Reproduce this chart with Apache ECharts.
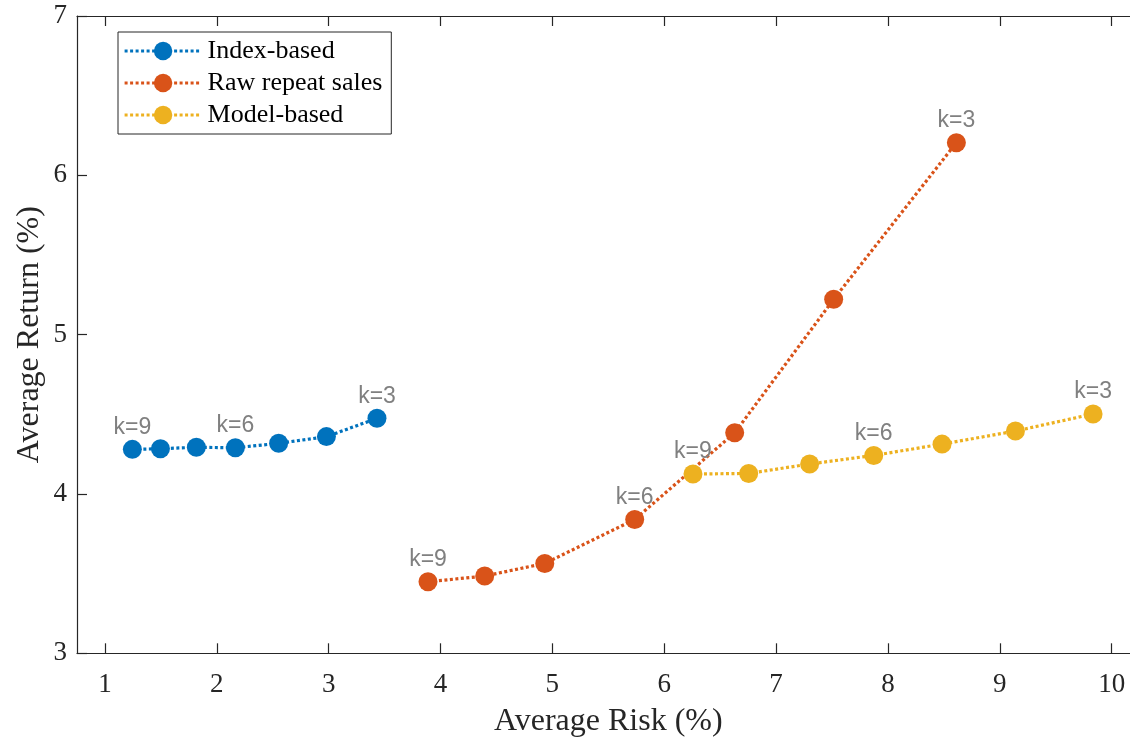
<!DOCTYPE html>
<html>
<head>
<meta charset="utf-8">
<title>Average Risk vs Average Return</title>
<script src="https://cdn.jsdelivr.net/npm/echarts@6/dist/echarts.min.js"></script>
<style>
  html, body { margin: 0; padding: 0; background: #fff; overflow: hidden; }
  #chart { width: 1130px; height: 740px; }
</style>
</head>
<body>
<div id="chart"></div>
<script>
// Holding period k for each point, from k=9 (left) to k=3 (right)
const kValues = [9, 8, 7, 6, 5, 4, 3];
const labeledK = [9, 6, 3];

// Average risk (%) and average return (%) per strategy
const indexRisk   = [1.245, 1.496, 1.817, 2.166, 2.553, 2.980, 3.432];
const indexReturn = [4.280, 4.284, 4.293, 4.290, 4.318, 4.360, 4.475];

const rawRisk     = [3.888, 4.395, 4.932, 5.736, 6.630, 7.515, 8.612];
const rawReturn   = [3.449, 3.485, 3.564, 3.840, 4.384, 5.222, 6.205];

const modelRisk   = [6.257, 6.755, 7.300, 7.873, 8.484, 9.140, 9.834];
const modelReturn = [4.125, 4.129, 4.188, 4.242, 4.313, 4.395, 4.502];

const xTicks = [1, 2, 3, 4, 5, 6, 7, 8, 9, 10];
const yTicks = [3, 4, 5, 6, 7];

const seriesNames  = ['Index-based', 'Raw repeat sales', 'Model-based'];
const seriesColors = ['#0072BD', '#D95319', '#EDB120'];

const serif = 'Liberation Serif, Times New Roman, serif';
const axisColor = '#262626';
const dotted = [3, 2.5];

function buildPoints(xs, ys) {
  return xs.map((x, i) => {
    const k = kValues[i];
    const show = labeledK.indexOf(k) >= 0;
    return {
      value: [x, ys[i]],
      label: { show: show, formatter: 'k=' + k }
    };
  });
}

function makeSeries(name, color, xs, ys) {
  return {
    name: name,
    type: 'line',
    data: buildPoints(xs, ys),
    symbol: 'circle',
    symbolSize: 19,
    showSymbol: true,
    itemStyle: { color: color },
    lineStyle: { color: color, width: 3.2, type: dotted },
    label: {
      position: 'top',
      distance: 1,
      color: '#808080',
      fontFamily: 'Liberation Sans, Arial, sans-serif',
      fontSize: 23
    },
    emphasis: { disabled: true },
    animation: false
  };
}

const chart = echarts.init(document.getElementById('chart'), null, { renderer: 'canvas' });

const xMin = 0.75, xMax = 10.25;

chart.setOption({
  backgroundColor: '#ffffff',
  animation: false,
  // the right side of the axes box runs just past the canvas edge
  grid: {
    left: 77, top: 16, width: 1062.6, height: 637.3,
    containLabel: false,
    outerBoundsMode: 'none'
  },
  legend: {
    orient: 'vertical',
    left: 118,
    top: 32,
    padding: [6, 9, 6, 5],
    itemGap: 6,
    itemWidth: 77,
    itemHeight: 23,
    backgroundColor: '#ffffff',
    borderColor: '#262626',
    borderWidth: 1,
    borderRadius: 0,
    lineStyle: { width: 3.2, type: dotted },
    textStyle: { fontFamily: serif, fontSize: 26, color: '#000000', padding: [0, 0, 0, 1] },
    data: seriesNames
  },
  xAxis: [
    {
      type: 'value',
      min: xMin,
      max: xMax,
      name: 'Average Risk (%)',
      nameLocation: 'middle',
      nameGap: 52,
      nameMoveOverlap: false,
      nameTextStyle: { fontFamily: serif, fontSize: 32, color: axisColor },
      axisLine: { show: true, lineStyle: { color: axisColor, width: 1.2 } },
      axisTick: { show: true, inside: true, length: 10, customValues: xTicks,
                  lineStyle: { color: axisColor, width: 1.2 } },
      axisLabel: { show: true, customValues: xTicks, margin: 18,
                   fontFamily: serif, fontSize: 27, color: axisColor },
      splitLine: { show: false }
    },
    {
      type: 'value',
      position: 'top',
      min: xMin,
      max: xMax,
      axisLine: { show: true, onZero: false, lineStyle: { color: axisColor, width: 1.2 } },
      axisTick: { show: true, inside: true, length: 10, customValues: xTicks,
                  lineStyle: { color: axisColor, width: 1.2 } },
      axisLabel: { show: false },
      splitLine: { show: false }
    }
  ],
  yAxis: {
    type: 'value',
    min: yTicks[0],
    max: yTicks[yTicks.length - 1],
    interval: 1,
    name: 'Average Return (%)',
    nameLocation: 'middle',
    nameGap: 31,
    nameMoveOverlap: false,
    nameTextStyle: { fontFamily: serif, fontSize: 32, color: axisColor },
    axisLine: { show: true, lineStyle: { color: axisColor, width: 1.2 } },
    axisTick: { show: true, inside: true, length: 10, lineStyle: { color: axisColor, width: 1.2 } },
    axisLabel: { margin: 10, fontFamily: serif, fontSize: 27, color: axisColor },
    splitLine: { show: false }
  },
  series: [
    makeSeries(seriesNames[0], seriesColors[0], indexRisk, indexReturn),
    makeSeries(seriesNames[1], seriesColors[1], rawRisk, rawReturn),
    makeSeries(seriesNames[2], seriesColors[2], modelRisk, modelReturn)
  ]
});
</script>
</body>
</html>
